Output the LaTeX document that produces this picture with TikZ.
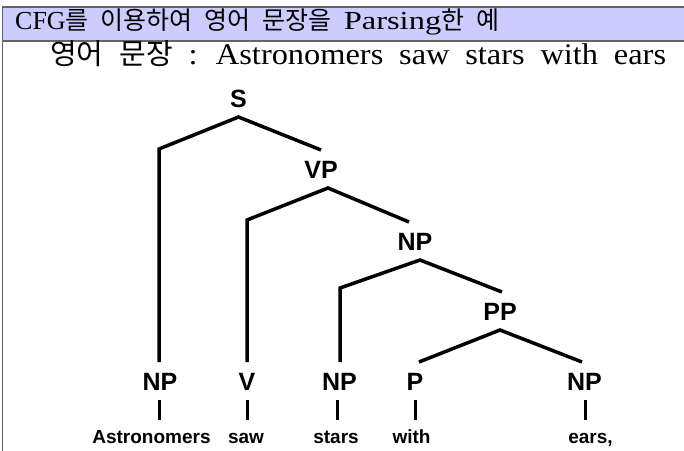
\documentclass[tikz,border=0pt]{standalone}
\usepackage{fontspec}
\setmainfont{Liberation Serif}
\setsansfont{Liberation Sans}
\newfontfamily\kr{Noto Sans CJK KR}
\newfontfamily\widelat{Liberation Serif}[FakeStretch=1.25]
\newfontfamily\sublat{Liberation Serif}[FakeStretch=1.08]
\definecolor{bandfill}{RGB}{204,204,255}
\definecolor{rulegray}{RGB}{100,100,100}
\begin{document}
\begin{tikzpicture}[x=1pt,y=-1pt,
  lbl/.style={font=\sffamily\bfseries\fontsize{25}{25}\selectfont, inner sep=0pt, outer xsep=0pt, outer ysep=10pt, text height=18pt, text depth=0pt, anchor=base},
  word/.style={font=\sffamily\bfseries\fontsize{19}{19}\selectfont, inner sep=0pt, outer xsep=0pt, outer ysep=10pt, text height=13pt, text depth=0pt, anchor=base},
  edge/.style={line width=3.5pt},
  tick/.style={line width=3pt},
  frameline/.style={draw=rulegray, line width=1.2pt},
  headtext/.style={anchor=base west, inner sep=0pt}]
\useasboundingbox (0,0) rectangle (684,450);
\clip (0,0) rectangle (684,450);
% frame
\draw[frameline, fill=bandfill] (2.5,7) rectangle (690,41);
\draw[frameline] (2.5,41) -- (2.5,455);
% texts
\node[headtext] (title) at (15,29) {\fontsize{26}{26}\selectfont\spaceskip=12pt CFG{\kr\fontsize{25}{25}\selectfont 를 이용하여 영어 문장을} {\widelat Parsing}{\kr\fontsize{25}{25}\selectfont 한 예}};
\node[headtext] (sub) at (50,64) {\sublat\fontsize{30}{30}\selectfont\spaceskip=15.8pt {\kr\fontsize{29}{29}\selectfont 영어 문장} : Astronomers saw stars with ears};
% tree labels
\node[lbl] (S) at (238.5,107) {S};
\node[lbl] (VP) at (321,178) {VP};
\node[lbl] (NP1) at (415,250) {NP};
\node[lbl] (PP) at (500,320) {PP};
\node[lbl] (NPa) at (160,390) {NP};
\node[lbl] (V) at (247,390) {V};
\node[lbl] (NPb) at (339.5,390) {NP};
\node[lbl] (P) at (415,390) {P};
\node[lbl] (NPc) at (584.5,390) {NP};
% words
\node[word] (w1) at (151.5,443) {Astronomers};
\node[word] (w2) at (246,443) {saw};
\node[word] (w3) at (336,443) {stars};
\node[word] (w4) at (411.5,443) {with};
\node[word] (w5) at (590.5,443) {ears,};
% corners
\coordinate (cS) at (159,149);
\coordinate (cVP) at (247,220);
\coordinate (cNP) at (340,288);
% edges
\draw[edge] (VP.north) -- (S.south) -- (cS) -- (cS |- NPa.north);
\draw[edge] ([xshift=-6pt]NP1.north) -- ([xshift=7pt]VP.south) -- (cVP) -- (cVP |- V.north);
\draw[edge] ([xshift=2pt]PP.north) -- ([xshift=5pt]NP1.south) -- (cNP) -- (cNP |- NPb.north);
\draw[edge] ([xshift=4pt]P.north) -- (PP.south) -- ([xshift=-2.5pt]NPc.north);
% ticks
\draw[tick] ([xshift=-1pt]NPa.south) -- ([xshift=-1pt]NPa.south |- w1.north);
\draw[tick] (V.south) -- (V.south |- w2.north);
\draw[tick] ([xshift=-2pt]NPb.south) -- ([xshift=-2pt]NPb.south |- w3.north);
\draw[tick] (P.south) -- (P.south |- w4.north);
\draw[tick] ([xshift=1pt]NPc.south) -- ([xshift=1pt]NPc.south |- w5.north);
\end{tikzpicture}
\end{document}
